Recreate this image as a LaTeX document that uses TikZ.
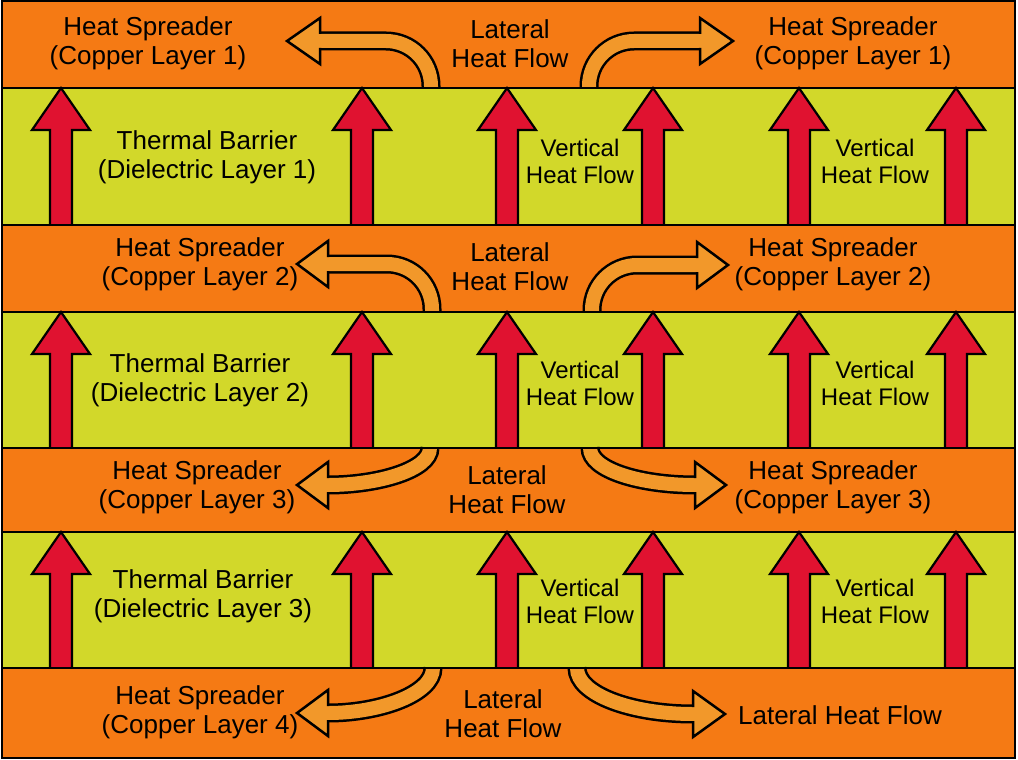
\documentclass[tikz,border=0pt]{standalone}
\usepackage{fontspec}
\setmainfont{Liberation Sans}
\definecolor{copper}{RGB}{245,122,20}
\definecolor{dielec}{RGB}{210,216,42}
\definecolor{heatred}{RGB}{224,18,48}
\definecolor{flowgold}{RGB}{242,152,42}
\begin{document}
\begin{tikzpicture}[x=1pt,y=-1pt,
    txt/.style={align=center,inner sep=0pt,font=\fontsize{26}{29}\selectfont},
    vtxt/.style={align=center,inner sep=0pt,font=\fontsize{24}{27}\selectfont},
    upflow/.style={fill=heatred,draw=black,line width=2.2pt,line join=miter},
    band/.style={draw=black,line width=2.5pt,double=flowgold,double distance=14pt},
    flowhead/.style={fill=flowgold,draw=black,line width=2.5pt,line join=miter}]
\useasboundingbox (0,0) rectangle (1018,760);
\foreach \ya/\yb/\c in {1/88/copper,88/225/dielec,225/312/copper,312/448/dielec,448/532/copper,532/668/dielec,668/758/copper}
    \fill[\c] (2,\ya) rectangle (1015,\yb);
\foreach \yb/\yt in {225/88,448/312,668/532}
  \foreach \x in {61,362,507,653,799,956}
    \filldraw[upflow] (\x-11,\yb) -- (\x-11,\yt+42) -- (\x-29,\yt+42) -- (\x,\yt) -- (\x+29,\yt+42) -- (\x+11,\yt+42) -- (\x+11,\yb);
\draw[band,rounded corners=45pt] (431,88) -- (431,41) -- (320,41);
\filldraw[flowhead] (320,34) -- (320,18) -- (287,41) -- (320,64) -- (320,48);
\draw[band,rounded corners=45pt] (589,88) -- (589,41) -- (700,41);
\filldraw[flowhead] (700,34) -- (700,18) -- (733,41) -- (700,64) -- (700,48);
\draw[band,rounded corners=45pt] (432,312) -- (432,264) -- (328,264);
\filldraw[flowhead] (328,257) -- (328,241) -- (297,264) -- (328,287) -- (328,271);
\draw[band,rounded corners=45pt] (592,312) -- (592,265) -- (697,265);
\filldraw[flowhead] (697,258) -- (697,242) -- (728,265) -- (697,288) -- (697,272);
\draw[band] (430,448) .. controls (430,470) and (378,485) .. (328,485);
\filldraw[flowhead] (328,478) -- (328,462) -- (297,485) -- (328,508) -- (328,492);
\draw[band] (590,448) .. controls (590,470) and (640,485) .. (695,485);
\filldraw[flowhead] (695,478) -- (695,462) -- (726,485) -- (695,508) -- (695,492);
\draw[band] (433,668) .. controls (433,694) and (380,713) .. (328,713);
\filldraw[flowhead] (328,706) -- (328,690) -- (297,713) -- (328,736) -- (328,720);
\draw[band] (577,668) .. controls (577,694) and (630,714) .. (693,714);
\filldraw[flowhead] (693,707) -- (693,691) -- (725,714) -- (693,737) -- (693,721);
\foreach \ya/\yb in {1/88,88/225,225/312,312/448,448/532,532/668,668/758}
    \draw[line width=2.5pt] (2,\ya) rectangle (1015,\yb);
           \node[txt] (cu1l) at (148,43) {Heat Spreader\\(Copper Layer 1)};
           \node[txt] (cu1m) at (510,44) {Lateral\\Heat Flow};
           \node[txt] (cu1r) at (853,43) {Heat Spreader\\(Copper Layer 1)};
           \node[txt] (di1l) at (207,157) {Thermal Barrier\\(Dielectric Layer 1)};
           \node[vtxt] (di1m) at (580,161) {Vertical\\Heat Flow};
           \node[vtxt] (di1r) at (875,161) {Vertical\\Heat Flow};
           \node[txt] (cu2l) at (200,264) {Heat Spreader\\(Copper Layer 2)};
           \node[txt] (cu2m) at (510,267) {Lateral\\Heat Flow};
           \node[txt] (cu2r) at (833,264) {Heat Spreader\\(Copper Layer 2)};
           \node[txt] (di2l) at (200,380) {Thermal Barrier\\(Dielectric Layer 2)};
           \node[vtxt] (di2m) at (580,383) {Vertical\\Heat Flow};
           \node[vtxt] (di2r) at (875,383) {Vertical\\Heat Flow};
           \node[txt] (cu3l) at (197,487) {Heat Spreader\\(Copper Layer 3)};
           \node[txt] (cu3m) at (507,490) {Lateral\\Heat Flow};
           \node[txt] (cu3r) at (833,487) {Heat Spreader\\(Copper Layer 3)};
           \node[txt] (di3l) at (203,596) {Thermal Barrier\\(Dielectric Layer 3)};
           \node[vtxt] (di3m) at (580,601) {Vertical\\Heat Flow};
           \node[vtxt] (di3r) at (875,601) {Vertical\\Heat Flow};
           \node[txt] (cu4l) at (200,712) {Heat Spreader\\(Copper Layer 4)};
           \node[txt] (cu4m) at (503,714) {Lateral\\Heat Flow};
           \node[txt] (cu4r) at (840,715) {Lateral Heat Flow};
\end{tikzpicture}
\end{document}
